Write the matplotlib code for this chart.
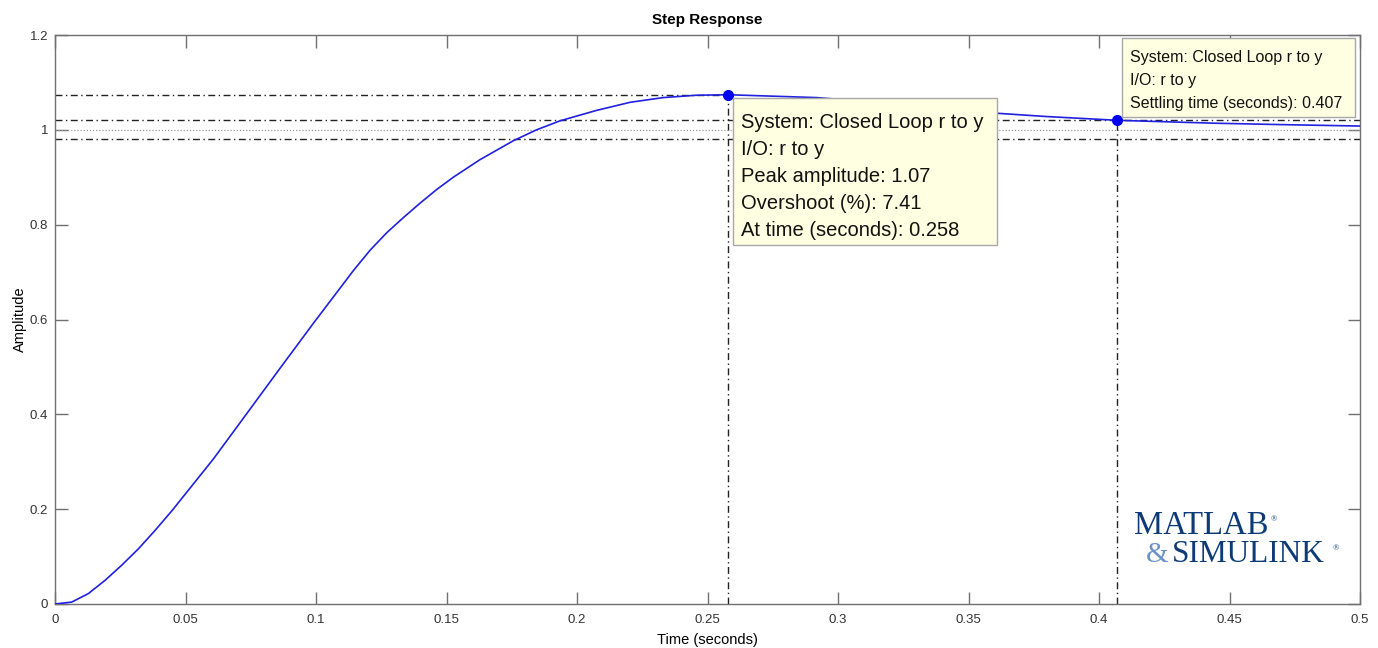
import matplotlib
matplotlib.use("Agg")
import matplotlib.pyplot as plt
from matplotlib.patches import Rectangle

plt.rcParams['font.family'] = ['Liberation Sans', 'DejaVu Sans']

# step response
t = [0.0, 0.0064, 0.0128, 0.0192, 0.0256, 0.0319, 0.0383, 0.0447, 0.0511,
     0.0575, 0.0607, 0.0734, 0.0862, 0.0990, 0.1143, 0.1207, 0.1271, 0.1335,
     0.1398, 0.1462, 0.1526, 0.1628, 0.1756, 0.1845, 0.1935, 0.2075, 0.2203,
     0.2330, 0.2459, 0.2580, 0.2918, 0.3100, 0.3300, 0.3608, 0.3800, 0.4074,
     0.4440, 0.4700, 0.5000]
y = [0.000, 0.004, 0.022, 0.050, 0.082, 0.116, 0.155, 0.196, 0.240,
     0.284, 0.306, 0.401, 0.497, 0.592, 0.703, 0.746, 0.783, 0.815,
     0.845, 0.874, 0.900, 0.937, 0.977, 1.000, 1.019, 1.041, 1.058,
     1.068, 1.073, 1.074, 1.068, 1.060, 1.049, 1.035, 1.028, 1.020,
     1.014, 1.011, 1.008]

peak_t, peak_y = 0.258, 1.0741
settle_t, settle_y = 0.407, 1.020
final_value = 1.0
band = 0.02

peak_lines = ["System: Closed Loop r to y", "I/O: r to y", "Peak amplitude: 1.07",
              "Overshoot (%): 7.41", "At time (seconds): 0.258"]
settle_lines = ["System: Closed Loop r to y", "I/O: r to y",
                "Settling time (seconds): 0.407"]

xticks = [0, 0.05, 0.1, 0.15, 0.2, 0.25, 0.3, 0.35, 0.4, 0.45, 0.5]
xticklabels = ["0", "0.05", "0.1", "0.15", "0.2", "0.25", "0.3", "0.35", "0.4", "0.45", "0.5"]
yticks = [0, 0.2, 0.4, 0.6, 0.8, 1.0, 1.2]
yticklabels = ["0", "0.2", "0.4", "0.6", "0.8", "1", "1.2"]

W, H = 1378, 648
fig = plt.figure(figsize=(W / 100, H / 100), dpi=100)
ax = fig.add_axes([55 / W, 44 / H, 1305 / W, 569 / H])

dashdot = (0, (5, 2.5, 1, 2.5))
lc = '#222222'

# characteristic lines
ax.plot([0, peak_t], [peak_y, peak_y], color=lc, lw=1, linestyle=dashdot)
ax.plot([peak_t, peak_t], [0, peak_y], color=lc, lw=1, linestyle=dashdot)
ax.plot([0, 0.5], [final_value + band] * 2, color=lc, lw=1, linestyle=dashdot)
ax.plot([0, 0.5], [final_value - band] * 2, color=lc, lw=1, linestyle=dashdot)
ax.plot([settle_t, settle_t], [0, settle_y], color=lc, lw=1, linestyle=dashdot)
ax.plot([0, 0.5], [final_value] * 2, color='#999999', lw=0.9, linestyle=(0, (1, 1.5)))

ax.plot(t, y, color='#2020e0', lw=1.2, zorder=3)
ax.plot([peak_t, settle_t], [peak_y, settle_y], 'o', color='#0000ee', ms=7, zorder=4)

ax.set_xlim(0, 0.5)
ax.set_ylim(0, 1.2)
ax.set_xticks(xticks)
ax.set_xticklabels(xticklabels)
ax.set_yticks(yticks)
ax.set_yticklabels(yticklabels)
ax.tick_params(direction='in', length=9, width=1, color='#707070', labelcolor='#333333',
               labelsize=9.5, top=True, right=True, pad=5)
ax.tick_params(axis='x', pad=7)
for s in ax.spines.values():
    s.set_color('#707070')
    s.set_linewidth(1)

ax.set_title("Step Response", fontsize=11, fontweight='bold', pad=8)
ax.set_xlabel("Time (seconds)", fontsize=10.5, labelpad=5)
ax.set_ylabel("Amplitude", fontsize=10.5, labelpad=2)

# data tip boxes
def tipbox(x0, y0, x1, y1, lines, fs, dy, first):
    ax.add_patch(Rectangle((x0, y1), x1 - x0, y0 - y1, facecolor='#ffffe1',
                           edgecolor='#a8a8a8', lw=1, zorder=6))
    for i, s in enumerate(lines):
        ax.annotate(s, (x0, y0), xytext=(5.5, -first - i * dy), textcoords='offset points',
                    fontsize=fs, color='#111111', va='center', ha='left', zorder=7)

tipbox(peak_t + 0.0018, 1.0675, 0.3609, 0.757, peak_lines, 14.5, 19.5, 17.5)
tipbox(settle_t + 0.0018, 1.194, 0.4981, 1.027, settle_lines, 11.5, 16.5, 14)

# logo
navy = '#0d3b78'
fig.text(1134 / W, 1 - 534 / H, "MATLAB", family='Liberation Serif', fontsize=23.5, color=navy)
fig.text(1271 / W, 1 - 521 / H, "\u00ae", family='Liberation Serif', fontsize=6, color=navy)
fig.text(1146 / W, 1 - 562 / H, "&", family='Liberation Serif', fontsize=21, color='#6b93c8')
fig.text(1172 / W, 1 - 562 / H, "SIMULINK", family='Liberation Serif', fontsize=22.5, color=navy)
fig.text(1333 / W, 1 - 550 / H, "\u00ae", family='Liberation Serif', fontsize=6, color=navy)

fig.savefig("out.png", dpi=100)
